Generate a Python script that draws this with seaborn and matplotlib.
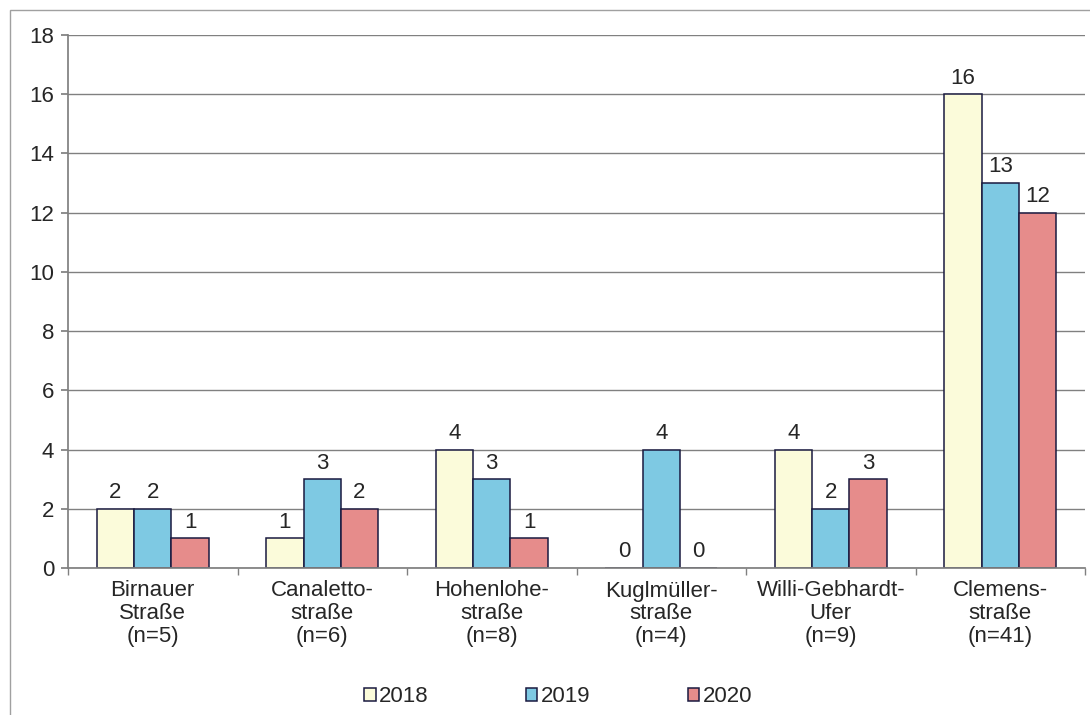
import matplotlib
matplotlib.use("Agg")
import matplotlib.pyplot as plt
import seaborn as sns
import pandas as pd
from matplotlib.patches import Rectangle

streets = ["Birnauer\nStraße\n(n=5)", "Canaletto-\nstraße\n(n=6)", "Hohenlohe-\nstraße\n(n=8)",
           "Kuglmüller-\nstraße\n(n=4)", "Willi-Gebhardt-\nUfer\n(n=9)", "Clemens-\nstraße\n(n=41)"]
years = ["2018", "2019", "2020"]
v2018 = [2, 1, 4, 0, 4, 16]
v2019 = [2, 3, 3, 4, 2, 13]
v2020 = [1, 2, 1, 0, 3, 12]
colors = ["#fbfbda", "#7ec9e3", "#e68c8b"]

rows = []
for y, vals in zip(years, [v2018, v2019, v2020]):
    for s, v in zip(streets, vals):
        rows.append({"Straße": s, "Jahr": y, "Anzahl": v})
df = pd.DataFrame(rows)

sns.set_theme(style="white")
plt.rcParams["font.family"] = ["Liberation Sans", "DejaVu Sans"]
fs = 16

fig = plt.figure(figsize=(10.9, 7.15), dpi=100)
fig.patches.append(Rectangle((10 / 1090, -0.01), 1.0, 1 - 10 / 715 + 0.01, transform=fig.transFigure,
                             fill=False, edgecolor="#a0a0a0", linewidth=1.0))
ax = fig.add_axes([68 / 1090, 1 - 568 / 715, (1085 - 68) / 1090, (568 - 35) / 715])

sns.barplot(data=df, x="Straße", y="Anzahl", hue="Jahr", palette=colors, width=0.66,
            saturation=1, edgecolor="#1a1a40", linewidth=1.1, gap=0, ax=ax)

for cont in ax.containers:
    ax.bar_label(cont, fontsize=fs, padding=4)

ax.set_ylim(0, 18)
ax.set_yticks(range(0, 19, 2))
ax.set_xlim(-0.5, 5.5)
ax.yaxis.grid(True, color="#808080", linewidth=1.0)
ax.set_axisbelow(True)
ax.set_xlabel("")
ax.set_ylabel("")
for side in ["top", "right"]:
    ax.spines[side].set_visible(False)
for side in ["left", "bottom"]:
    ax.spines[side].set_color("#808080")
ax.tick_params(axis="y", length=5, color="#808080", labelsize=fs, left=True, pad=5)
ax.tick_params(axis="x", length=0, labelsize=fs, pad=9)
for lab in ax.get_xticklabels():
    lab.set_linespacing(1.1)
# tick marks between categories
ax.set_xticks([i + 0.5 for i in range(-1, 6)], minor=True)
ax.tick_params(axis="x", which="minor", length=5, color="#808080", bottom=True)

ax.legend(loc="center", bbox_to_anchor=(0.482, -0.242), ncol=3, frameon=False,
          fontsize=fs, handlelength=0.5, handleheight=0.5, handletextpad=0.15, columnspacing=4.4)

fig.savefig("out.png", dpi=100)
